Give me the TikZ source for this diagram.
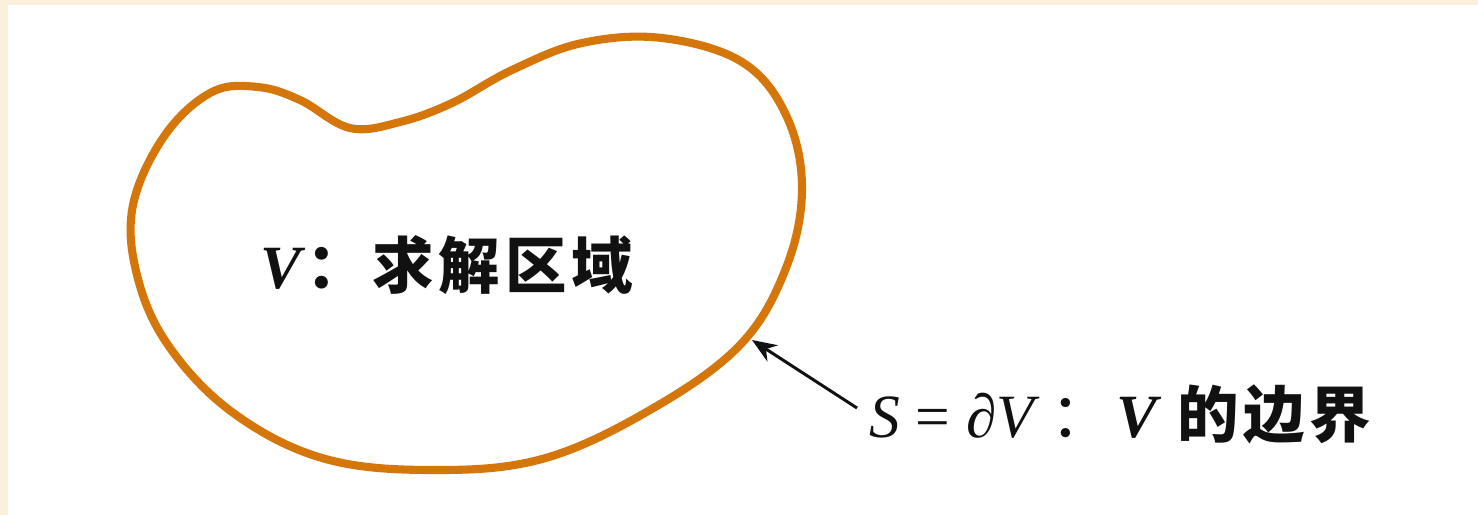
\documentclass[tikz,border=0pt]{standalone}
\usepackage{fontspec}
\setmainfont{Liberation Serif}
\newfontfamily\cjk{Noto Sans CJK SC}[LetterSpace=8]
\usetikzlibrary{arrows.meta, positioning, calc}
\definecolor{PageCream}{HTML}{FAF0DC}
\definecolor{BlobOrange}{HTML}{D5760A}
\definecolor{InkBlack}{HTML}{111111}

\begin{document}
\begin{tikzpicture}[>=Stealth, x=0.02cm, y=-0.02cm,
    lbl/.style={inner sep=2pt, font=\fontsize{35}{40}\selectfont, color=InkBlack},
    pointer/.style={->, line width=1.7pt, color=InkBlack, >={Stealth[length=14pt, width=11pt]}}]
                % Page background and cream frame
                \fill[color=PageCream] (0,0) rectangle (1478,515);
                \fill[color=white] (8,5) rectangle (1478,515);
                \useasboundingbox (0,0) rectangle (1478,515);
                
                % Region V
                \draw[line width=4.6pt, color=BlobOrange, line join=round]
                    plot[smooth cycle, tension=0.62] coordinates {
                    (350,128) (300,100) (258,87) (212,92) (165,135) (133,205)
                    (137,275) (168,345) (232,412) (322,458) (430,470) (542,459)
                    (650,410) (740,345) (786,268) (802,188) (786,115) (742,62)
                    (662,38) (582,43) (512,70) (452,103) (400,122)};
                \coordinate (bdry) at (752,340);
                
                % Labels
                \node[lbl] (lblV) at (447,265) {\textbf{\textit{V}}{\cjk\bfseries ：求解区域}};
                \node[lbl, anchor=west] (lblS) at (866,414) {\textit{S} = \textit{∂V}\,{\cjk ：}\textbf{\textit{V}} {\cjk\bfseries 的边界}};
                
                % Boundary pointer
                \draw[pointer] ([shift={(-9,-6)}]lblS.west) -- (bdry);
            \end{tikzpicture}
\end{document}
